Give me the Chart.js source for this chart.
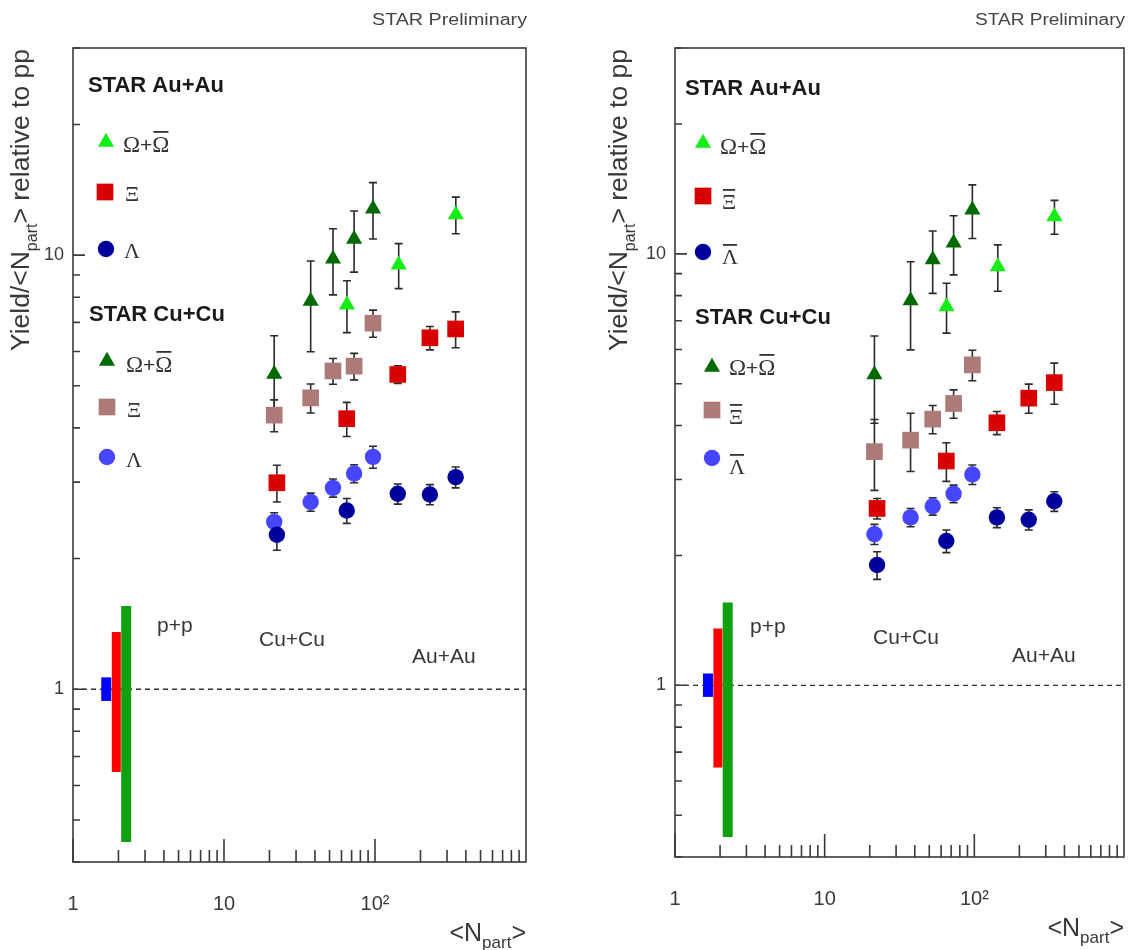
<!DOCTYPE html>
<html><head><meta charset="utf-8">
<script src="https://cdn.jsdelivr.net/npm/chart.js@4.4.1/dist/chart.umd.min.js"></script>
<style>
html,body{margin:0;padding:0;background:#fff;}
#wrap{position:relative;width:1128px;height:950px;overflow:hidden;background:#fff;}
#cL{position:absolute;left:0;top:0;}
#cR{position:absolute;left:560px;top:0;}
</style></head><body>
<div id="wrap">
<canvas id="cL" width="560" height="950"></canvas>
<canvas id="cR" width="568" height="950"></canvas>
</div>
<script>
// ---------------- data ----------------
const xTickValues = [1, 10, 100];
const xTickLabels = ['1', '10', '10\u00B2'];
const yTickValues = [1, 10];
const yTickLabels = ['1', '10'];

const cuNpart = [21.5, 37.5, 52.7, 72.7, 97.0];
const auNpart = [22.4, 65.0, 141.5, 231, 342];
const auNpartOmega = [65.2, 143.5, 343];

// p+p normalisation uncertainty bands (Λ, Ξ, Ω)
const ppNpart = [1.66, 1.935, 2.25];
const ppLow  = [0.94, 0.645, 0.445];
const ppHigh = [1.065, 1.355, 1.555];
const refLineX = [1, 1000];
const refLineY = [1, 1];

// left panel: particles
const cuOmegaL = [5.32, 7.84, 9.80, 10.89, 12.79];
const cuOmegaLErr = [1.2, 1.85, 1.7, 1.75, 1.9];
const auOmegaL = [7.68, 9.50, 12.4];
const auOmegaLErr = [1.05, 1.13, 1.2];
const cuXi = [4.28, 4.69, 5.41, 5.55, 6.97];
const cuXiErr = [0.36, 0.36, 0.37, 0.39, 0.50];
const auXi = [2.99, 4.20, 5.31, 6.45, 6.76];
const auXiErr = [0.29, 0.38, 0.25, 0.40, 0.64];
const cuLambda = [2.43, 2.70, 2.91, 3.14, 3.43];
const cuLambdaErr = [0.12, 0.13, 0.14, 0.15, 0.2];
const auLambda = [2.27, 2.58, 2.82, 2.81, 3.08];
const auLambdaErr = [0.18, 0.17, 0.15, 0.15, 0.17];

// right panel: anti-particles
const cuOmegaR = [5.25, 7.79, 9.70, 10.6, 12.65];
const cuOmegaRErr = [1.2, 1.8, 1.6, 1.66, 1.8];
const auOmegaR = [7.55, 9.34, 12.2];
const auOmegaRErr = [1.0, 1.15, 1.1];
const cuXiBar = [3.48, 3.70, 4.14, 4.50, 5.53];
const cuXiBarErr = [0.65, 0.57, 0.31, 0.34, 0.45];
const auXiBar = [2.57, 3.31, 4.06, 4.63, 5.03];
const auXiBarErr = [0.14, 0.34, 0.25, 0.36, 0.55];
const cuLambdaBar = [2.24, 2.45, 2.60, 2.78, 3.08];
const cuLambdaBarErr = [0.12, 0.12, 0.12, 0.13, 0.16];
const auLambdaBar = [1.90, 2.16, 2.45, 2.42, 2.67];
const auLambdaBarErr = [0.14, 0.13, 0.13, 0.13, 0.14];

// ---------------- styles ----------------
const FONT = "'Liberation Sans', Arial, Helvetica, sans-serif";
const SERIF = "'Liberation Serif', 'Times New Roman', serif";
const C = {
  lightGreen:'#14ee14', darkGreen:'#006a00', red:'#d80000', rosy:'#ad7a7a',
  darkBlue:'#00009c', lightBlue:'#4646ff'
};
const ppColors = ['#0000ff', '#ff0000', '#0f9f0f'];
const ppWidths = [10, 9, 10];
const R = {triangle:9.3, rect:11.8, circle:8.2};

function drawMarker(ctx, style, x, y, color) {
  const r = R[style];
  ctx.fillStyle = color; ctx.beginPath();
  if (style === 'triangle') {
    ctx.moveTo(x, y - r); ctx.lineTo(x + r * 0.866, y + r / 2); ctx.lineTo(x - r * 0.866, y + r / 2); ctx.closePath();
  } else if (style === 'rect') {
    const s = r * Math.SQRT1_2; ctx.rect(x - s, y - s, 2 * s, 2 * s);
  } else { ctx.arc(x, y, r, 0, Math.PI * 2); }
  ctx.fill();
}
function richWidth(ctx, parts) {
  let w = 0; parts.forEach(p => { ctx.font = p.f; w += ctx.measureText(p.t).width; }); return w;
}
function drawRich(ctx, x, y, parts, align) {
  const w = richWidth(ctx, parts);
  let cx = align === 'right' ? x - w : (align === 'center' ? x - w / 2 : x);
  ctx.textAlign = 'left'; ctx.textBaseline = 'alphabetic';
  parts.forEach(p => {
    ctx.font = p.f;
    const pw = ctx.measureText(p.t).width;
    ctx.fillText(p.t, cx, y + (p.dy || 0));
    if (p.bar) ctx.fillRect(cx + 1, y + (p.dy || 0) - p.bar, pw - 2, 1.8);
    cx += pw;
  });
}
function omegaParts(sz) {
  return [{t:'\u03A9', f:sz + 'px ' + SERIF}, {t:'+', f:(sz - 2) + 'px ' + FONT}, {t:'\u03A9', f:sz + 'px ' + SERIF, bar:21}];
}

const errorBarPlugin = {
  id: 'errbars',
  beforeDatasetsDraw(chart) {
    const {ctx, scales:{x, y}} = chart;
    ctx.save(); ctx.strokeStyle = '#2b2b2b'; ctx.lineWidth = 1.6;
    chart.data.datasets.forEach(ds => {
      if (!ds.errY) return;
      ds.data.forEach((p, i) => {
        const e = ds.errY[i];
        const px = x.getPixelForValue(p.x);
        const yt = y.getPixelForValue(p.y + e), yb = y.getPixelForValue(p.y - e);
        ctx.beginPath();
        ctx.moveTo(px, yt); ctx.lineTo(px, yb);
        ctx.moveTo(px - 4, yt); ctx.lineTo(px + 4, yt);
        ctx.moveTo(px - 4, yb); ctx.lineTo(px + 4, yb);
        ctx.stroke();
      });
    });
    ctx.restore();
  }
};

const framePlugin = {
  id: 'frame',
  afterDraw(chart) {
    const {ctx, chartArea:a, scales:{x, y}} = chart;
    const P = chart.options.plugins.frame;
    ctx.save();
    ctx.strokeStyle = '#3a3a3a'; ctx.lineWidth = 1.6;
    ctx.strokeRect(a.left, a.top, a.right - a.left, a.bottom - a.top);
    ctx.beginPath();
    [1, 10, 100].forEach(d => { for (let k = 1; k < 10; k++) {
      const v = k * d; if (v < x.min || v > x.max) continue;
      const px = x.getPixelForValue(v); const len = k === 1 ? 23 : 12;
      ctx.moveTo(px, a.bottom); ctx.lineTo(px, a.bottom - len);
    }});
    [0.1, 1, 10].forEach(d => { for (let k = 1; k < 10; k++) {
      const v = Math.round(k * d * 10) / 10; if (v < y.min || v > y.max) continue;
      const py = y.getPixelForValue(v); const len = k === 1 ? 12 : 7;
      ctx.moveTo(a.left, py); ctx.lineTo(a.left + len, py);
    }});
    ctx.stroke();

    // STAR Preliminary (fitted to width)
    ctx.save();
    ctx.font = '16px ' + FONT;
    const sw = ctx.measureText('STAR Preliminary').width;
    ctx.translate(P.prelimRight, 25); ctx.scale(P.prelimW / sw, 1);
    ctx.textAlign = 'right'; ctx.textBaseline = 'alphabetic'; ctx.fillStyle = '#444';
    ctx.fillText('STAR Preliminary', 0, 0);
    ctx.restore();

    // y title
    ctx.save();
    ctx.translate(P.yTitleX, a.top + 1);
    ctx.rotate(-Math.PI / 2);
    ctx.fillStyle = '#383838';
    drawRich(ctx, 0, 0, [
      {t:'Yield/<N', f:'26.5px ' + FONT}, {t:'part', f:'16px ' + FONT, dy:8}, {t:'> relative to pp', f:'26.5px ' + FONT}
    ], 'right');
    ctx.restore();

    // x title
    ctx.fillStyle = '#383838';
    drawRich(ctx, a.right, a.bottom + 79, [
      {t:'<N', f:'25px ' + FONT}, {t:'part', f:'17px ' + FONT, dy:7}, {t:'>', f:'25px ' + FONT}
    ], 'right');

    // legend blocks
    ctx.fillStyle = '#1a1a1a';
    ctx.font = 'bold 22px ' + FONT; ctx.textAlign = 'left'; ctx.textBaseline = 'alphabetic';
    ctx.fillText('STAR Au+Au', P.auHead[0], P.auHead[1]);
    ctx.fillText('STAR Cu+Cu', P.cuHead[0], P.cuHead[1]);
    P.legend.forEach(L => {
      drawMarker(ctx, L.style, L.mx, L.my, L.color);
      ctx.fillStyle = '#333';
      drawRich(ctx, L.tx, L.ty, L.parts, 'left');
    });

    // system labels
    ctx.fillStyle = '#383838';
    ctx.font = '21px ' + FONT; ctx.textAlign = 'left';
    P.sysLabels.forEach(s => ctx.fillText(s[0], s[1], s[2]));
    ctx.restore();
  }
};

function xy(xs, ys) { return xs.map((x, i) => ({x, y: ys[i]})); }
const XI = sz => [{t:'\u039E', f:sz + 'px ' + SERIF}];
const LA = sz => [{t:'\u039B', f:sz + 'px ' + SERIF}];
const XIBAR = sz => [{t:'\u039E', f:sz + 'px ' + SERIF, bar:20}];
const LABAR = sz => [{t:'\u039B', f:sz + 'px ' + SERIF, bar:20}];

function buildChart(id, P) {
  const datasets = [];
  datasets.push({label:'ref', data:xy(refLineX, refLineY), showLine:true, borderColor:'#333', borderWidth:1.3,
    borderDash:[5, 4], pointRadius:0, order:30});
  ppNpart.forEach((x, i) => datasets.push({label:'pp' + i, data:[{x, y:ppLow[i]}, {x, y:ppHigh[i]}], showLine:true,
    borderColor:ppColors[i], borderWidth:ppWidths[i], borderCapStyle:'butt', pointRadius:0, order:20}));
  P.series.forEach((s, k) => datasets.push({label:s.name, data:xy(s.x, s.y), errY:s.err, pointStyle:s.style,
    pointRadius:R[s.style], pointHoverRadius:R[s.style], backgroundColor:s.color, borderColor:s.color,
    borderWidth:0, showLine:false, order:10 - k}));

  return new Chart(document.getElementById(id), {
    type:'scatter',
    data:{datasets},
    plugins:[errorBarPlugin, framePlugin],
    options:{
      responsive:false, animation:false, devicePixelRatio:1, events:[],
      layout:{autoPadding:false, padding:{top:48, right:P.padRight, left:0, bottom:0}},
      plugins:{legend:{display:false}, tooltip:{enabled:false}, frame:P},
      scales:{
        x:{type:'logarithmic', min:1, max:1000,
          grid:{display:false, drawTicks:false}, border:{display:false},
          afterBuildTicks:s => { s.ticks = xTickValues.map(v => ({value:v})); },
          ticks:{callback:(v, i) => xTickLabels[i], font:{family:FONT, size:20}, color:'#3a3a3a',
            padding:30, maxRotation:0, minRotation:0, autoSkip:false},
          afterFit:s => { s.height = P.xH; s.paddingLeft = 0; s.paddingRight = 0; }},
        y:{type:'logarithmic', min:0.4, max:30,
          grid:{display:false, drawTicks:false}, border:{display:false},
          afterBuildTicks:s => { s.ticks = yTickValues.map(v => ({value:v})); },
          ticks:{callback:(v, i) => yTickLabels[i], font:{family:FONT, size:18}, color:'#3a3a3a',
            padding:9, autoSkip:false},
          afterFit:s => { s.width = P.yW; s.paddingTop = 0; s.paddingBottom = 0; }}
      }
    }
  });
}

buildChart('cL', {
  padRight:34, xH:88, yW:73, yTitleX:29, prelimRight:527, prelimW:155,
  series:[
    {name:'Cu Omega', x:cuNpart, y:cuOmegaL, err:cuOmegaLErr, style:'triangle', color:C.darkGreen},
    {name:'Au Omega', x:auNpartOmega, y:auOmegaL, err:auOmegaLErr, style:'triangle', color:C.lightGreen},
    {name:'Cu Xi', x:cuNpart, y:cuXi, err:cuXiErr, style:'rect', color:C.rosy},
    {name:'Au Xi', x:auNpart, y:auXi, err:auXiErr, style:'rect', color:C.red},
    {name:'Cu Lambda', x:cuNpart, y:cuLambda, err:cuLambdaErr, style:'circle', color:C.lightBlue},
    {name:'Au Lambda', x:auNpart, y:auLambda, err:auLambdaErr, style:'circle', color:C.darkBlue}
  ],
  auHead:[88, 92], cuHead:[89, 321],
  legend:[
    {style:'triangle', color:C.lightGreen, mx:106, my:142, tx:123, ty:152, parts:omegaParts(23)},
    {style:'rect', color:C.red, mx:105, my:192, tx:125, ty:201, parts:XI(22)},
    {style:'circle', color:C.darkBlue, mx:106, my:249, tx:124, ty:258, parts:LA(22)},
    {style:'triangle', color:C.darkGreen, mx:107, my:361, tx:126, ty:372, parts:omegaParts(23)},
    {style:'rect', color:C.rosy, mx:107, my:407, tx:127, ty:417, parts:XI(22)},
    {style:'circle', color:C.lightBlue, mx:107, my:457, tx:126, ty:467, parts:LA(22)}
  ],
  sysLabels:[['p+p', 157, 632], ['Cu+Cu', 259, 646], ['Au+Au', 412, 663]]
});

buildChart('cR', {
  padRight:4, xH:93, yW:115, yTitleX:67, prelimRight:565, prelimW:150,
  series:[
    {name:'Cu Omega', x:cuNpart, y:cuOmegaR, err:cuOmegaRErr, style:'triangle', color:C.darkGreen},
    {name:'Au Omega', x:auNpartOmega, y:auOmegaR, err:auOmegaRErr, style:'triangle', color:C.lightGreen},
    {name:'Cu XiBar', x:cuNpart, y:cuXiBar, err:cuXiBarErr, style:'rect', color:C.rosy},
    {name:'Au XiBar', x:auNpart, y:auXiBar, err:auXiBarErr, style:'rect', color:C.red},
    {name:'Cu LambdaBar', x:cuNpart, y:cuLambdaBar, err:cuLambdaBarErr, style:'circle', color:C.lightBlue},
    {name:'Au LambdaBar', x:auNpart, y:auLambdaBar, err:auLambdaBarErr, style:'circle', color:C.darkBlue}
  ],
  auHead:[125, 95], cuHead:[135, 324],
  legend:[
    {style:'triangle', color:C.lightGreen, mx:143, my:143, tx:160, ty:154, parts:omegaParts(23)},
    {style:'rect', color:C.red, mx:143, my:196, tx:162, ty:209, parts:XIBAR(22)},
    {style:'circle', color:C.darkBlue, mx:143, my:252, tx:162, ty:264, parts:LABAR(22)},
    {style:'triangle', color:C.darkGreen, mx:152, my:367, tx:169, ty:375, parts:omegaParts(23)},
    {style:'rect', color:C.rosy, mx:152, my:410, tx:169, ty:424, parts:XIBAR(22)},
    {style:'circle', color:C.lightBlue, mx:152, my:458, tx:169, ty:474, parts:LABAR(22)}
  ],
  sysLabels:[['p+p', 190, 633], ['Cu+Cu', 313, 644], ['Au+Au', 452, 662]]
});
</script>
</body></html>
